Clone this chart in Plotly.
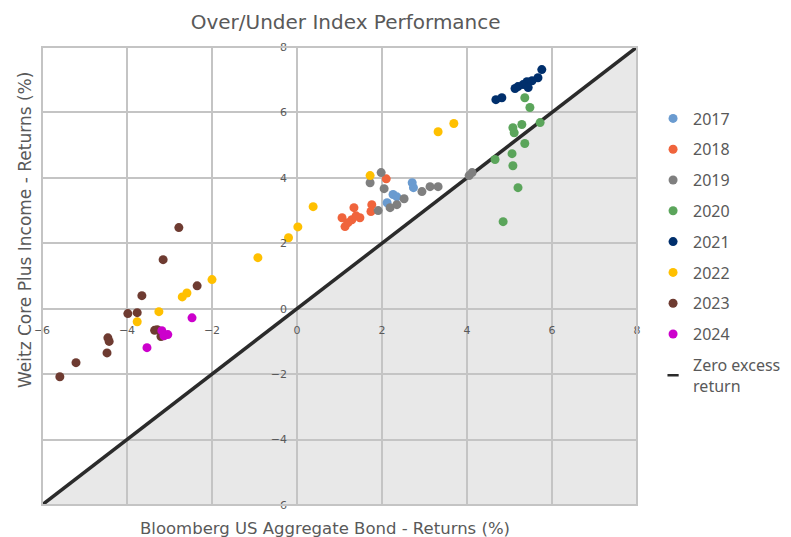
import plotly.graph_objects as go

# ---- data ----
years = ["2017", "2018", "2019", "2020", "2021", "2022", "2023", "2024"]
colors = ["#6A9BD0", "#F0643C", "#7F7F7F", "#5BA55B", "#002F6C", "#FFC000", "#6E3B31", "#CC00CC"]

x2017 = [2.71, 2.74, 2.26, 2.12, 2.35]
y2017 = [3.85, 3.70, 3.49, 3.24, 3.42]
x2018 = [2.10, 1.34, 1.76, 1.74, 1.06, 1.13, 1.29, 1.48, 1.39, 1.20]
y2018 = [3.97, 3.09, 3.18, 2.97, 2.78, 2.51, 2.72, 2.78, 2.84, 2.63]
x2019 = [1.98, 1.72, 2.05, 1.91, 2.19, 2.35, 2.52, 2.94, 3.13, 3.32, 4.05, 4.12]
y2019 = [4.16, 3.85, 3.67, 3.00, 3.09, 3.18, 3.36, 3.58, 3.73, 3.73, 4.07, 4.16]
x2020 = [5.36, 5.48, 5.72, 5.29, 5.08, 5.11, 5.36, 5.06, 4.66, 5.08, 5.20, 4.85]
y2020 = [6.45, 6.15, 5.69, 5.63, 5.53, 5.38, 5.05, 4.74, 4.56, 4.37, 3.70, 2.66]
x2021 = [5.76, 5.67, 5.53, 5.41, 5.32, 5.20, 5.13, 5.44, 4.82, 4.68]
y2021 = [7.31, 7.06, 6.97, 6.94, 6.85, 6.79, 6.73, 6.76, 6.45, 6.39]
x2022 = [-3.25, -3.76, -2.70, -2.59, -2.00, -0.92, -0.20, 0.02, 0.38, 1.72, 3.32, 3.69]
y2022 = [-0.09, -0.40, 0.36, 0.48, 0.89, 1.56, 2.17, 2.50, 3.12, 4.07, 5.41, 5.66]
x2023 = [-2.78, -3.15, -3.65, -2.35, -3.98, -3.76, -3.29, -3.20, -4.45, -4.42, -4.47, -5.20, -5.58, -3.35]
y2023 = [2.48, 1.50, 0.40, 0.70, -0.15, -0.12, -0.64, -0.85, -0.89, -1.00, -1.35, -1.65, -2.08, -0.66]
x2024 = [-2.47, -3.53, -3.18, -3.04, -3.13]
y2024 = [-0.28, -1.19, -0.67, -0.79, -0.83]

xs = [x2017, x2018, x2019, x2020, x2021, x2022, x2023, x2024]
ys = [y2017, y2018, y2019, y2020, y2021, y2022, y2023, y2024]

axis_min, axis_max = -6, 8
tick_vals = [-6, -4, -2, 0, 2, 4, 6, 8]
line_name = "Zero excess<br>return"

TXT = "#595959"
GRID = "#C4C4C4"
LINE = "#2B2B2B"

fig = go.Figure()

# zero-excess diagonal (drawn under the points)
fig.add_trace(go.Scatter(x=[axis_min, axis_max], y=[axis_min, axis_max], mode="lines",
                         line=dict(color=LINE, width=3.5), showlegend=False,
                         hoverinfo="skip"))

for yr, c, xv, yv in zip(years, colors, xs, ys):
    fig.add_trace(go.Scatter(x=xv, y=yv, mode="markers", name=yr, legendgroup=yr,
                             marker=dict(color=c, size=9, line=dict(width=0))))

# legend-only entry for the diagonal
fig.add_trace(go.Scatter(x=[None], y=[None], mode="markers", name=line_name, legendgroup="zero",
                         marker=dict(symbol="line-ew-open", size=8, color=LINE,
                                     line=dict(color=LINE, width=2.5))))

# shaded region below the diagonal
fig.add_shape(type="path",
              path=f"M {axis_min},{axis_min} L {axis_max},{axis_max} L {axis_max},{axis_min} Z",
              xref="x", yref="y", layer="below", fillcolor="#E8E8E8", line=dict(width=0))
# plot border
fig.add_shape(type="rect", xref="paper", yref="paper", x0=0, y0=0, x1=1, y1=1,
              line=dict(color=GRID, width=2), layer="above")

zero_frac = (0 - axis_min) / (axis_max - axis_min)

fig.update_layout(
    width=791, height=537,
    margin=dict(l=42, r=154, t=47, b=32, autoexpand=False),
    paper_bgcolor="white", plot_bgcolor="white",
    title=dict(text="Over/Under Index Performance", x=0.437, xanchor="center", y=0.959, yanchor="middle",
               font=dict(family="DejaVu Sans", size=20, color=TXT)),
    xaxis=dict(range=[axis_min, axis_max], tickvals=tick_vals, anchor="free", position=zero_frac,
               showgrid=True, gridcolor=GRID, gridwidth=1.5, zeroline=False, showline=False,
               ticks="", ticklabelstandoff=13, automargin=False,
               tickfont=dict(family="DejaVu Sans", size=11, color=TXT)),
    yaxis=dict(range=[axis_min, axis_max], tickvals=tick_vals, anchor="free", position=zero_frac,
               showgrid=True, gridcolor=GRID, gridwidth=1.5, zeroline=False, showline=False,
               ticks="", ticklabelstandoff=10, automargin=False,
               tickfont=dict(family="DejaVu Sans", size=11, color=TXT)),
    legend=dict(x=1.027, xanchor="left", y=0.881, yanchor="top", tracegroupgap=7,
                itemwidth=30, bgcolor="rgba(0,0,0,0)",
                font=dict(family="Noto Sans", size=16, color=TXT)),
    annotations=[
        dict(text="Bloomberg US Aggregate Bond - Returns (%)", xref="paper", yref="paper",
             x=(325 - 42) / 595, y=0, yshift=-23, xanchor="center", yanchor="middle", showarrow=False,
             font=dict(family="DejaVu Sans", size=16.5, color=TXT)),
        dict(text="Weitz Core Plus Income - Returns (%)", xref="paper", yref="paper",
             x=0, xshift=-17, y=(505 - 230) / 458, xanchor="center", yanchor="middle", textangle=-90,
             showarrow=False, font=dict(family="DejaVu Sans", size=17, color=TXT)),
    ],
    showlegend=True,
)

fig.write_html("out.html", config={"displayModeBar": False},
               post_script="document.body.style.margin='0px';")
